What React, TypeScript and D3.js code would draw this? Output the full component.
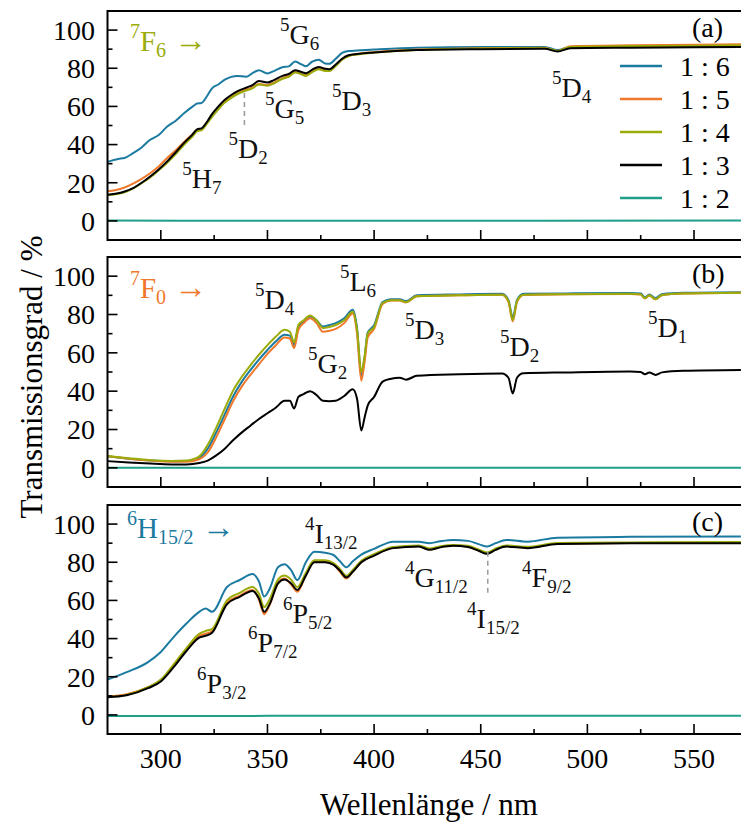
import React from "react";
import * as d3 from "d3";

// ---------- data ----------
const SERIES = ["1 : 6", "1 : 5", "1 : 4", "1 : 3", "1 : 2"];
const COLORS = ["#1b7aa0", "#f0782a", "#9aab0a", "#000000", "#1f9e8a"];

// Panel (a): 7F6 ->
const WL_A = [275, 280, 283, 287, 291, 295, 299, 303, 307, 311, 315, 317, 319, 322, 324, 327, 330, 333, 336, 340, 343, 346, 350, 353, 357, 360, 363, 366, 368, 371, 374, 377, 379, 382, 385, 388, 392, 400, 420, 450, 480, 486, 492, 520, 550, 572];
const A_16 = [31, 32.5, 33, 35.5, 38.5, 42.5, 45, 49.5, 52.5, 56.5, 60, 61.5, 61.8, 66, 69.5, 71.5, 74, 75.5, 76, 75.5, 77.5, 79, 77.3, 78.5, 80.5, 81, 83.5, 82, 81, 83.5, 84.5, 82.5, 82.3, 85, 88, 89, 89.3, 89.8, 90.8, 91.2, 91.2, 89.5, 91.2, 91.5, 91.6, 91.7];
const A_15 = [15.5, 16.5, 17.5, 19.5, 22, 25, 28.5, 33, 37, 41.5, 45.5, 47.5, 48, 52, 55, 59, 62.5, 65, 67, 68.8, 70, 71.8, 71.2, 72.5, 74.8, 76, 78, 77, 76.4, 78.5, 79.8, 79, 78.8, 81.5, 84.8, 86.5, 87.5, 88.5, 89.8, 90.5, 90.8, 89, 91.5, 92, 92.3, 92.6];
const A_14 = [13.5, 14.2, 15, 17, 19.8, 22.8, 26.5, 30.5, 35, 40, 44.5, 47, 47.5, 51.5, 54.5, 58.5, 62, 64.5, 66.5, 68.3, 69.5, 71.5, 70.8, 72, 74.5, 75.5, 77.8, 76.8, 76, 78, 79.5, 78.6, 78.5, 81.2, 84.5, 86.3, 87.2, 88.2, 89.6, 90.3, 90.6, 89, 91.2, 91.6, 91.8, 92];
const A_13 = [13.7, 14.5, 15.4, 17.2, 20, 23.3, 27, 31.2, 36, 41, 45.5, 48, 48.5, 52.5, 56, 60, 63.5, 66, 68, 69.8, 71.2, 73.3, 72.5, 73.8, 76, 77, 79, 78, 77.4, 79.3, 80.7, 79.7, 79.5, 82, 85, 86.8, 87.5, 88.3, 89.5, 90, 90.2, 88.8, 90.5, 90.8, 91, 91.2];
const WL_A2 = [275, 350, 450, 572];
const A_12 = [0.2, 0.1, 0.1, 0.2];

// Panel (b): 7F0 ->
const WL_B = [275, 285, 295, 305, 312, 318, 322, 326, 330, 334, 338, 342, 346, 350, 354, 358, 360.5, 362.5, 364.5, 367, 370, 373, 376, 379, 382, 386, 390, 392, 394, 395.5, 397, 400, 404, 408, 412, 415, 420, 440, 460, 463, 465, 467, 470, 490, 520, 525, 527, 529, 532, 535, 545, 572];
const B_16 = [6.0, 4.8, 3.8, 3.4, 3.5, 5.2, 10, 18.5, 28, 37.5, 45, 51, 56.5, 61.5, 66, 69.5, 69, 64, 73.5, 76.5, 79, 77, 73.8, 74.5, 75.5, 78, 82.5, 73, 48, 57, 70.5, 74.5, 86.5, 88, 88, 87, 90, 90.5, 90.8, 87.5, 78.5, 87.5, 90.8, 91, 91.2, 91, 89, 90.4, 88.6, 90.6, 91.3, 91.6];
const B_15 = [6.0, 4.8, 3.8, 3.2, 3.2, 4.5, 8, 16, 25.5, 35, 42.5, 48.5, 54, 59.5, 64, 68, 67.5, 62.5, 72, 75.5, 78, 75.5, 71, 71.5, 72.5, 75.5, 80.5, 70, 45.5, 55, 68, 72.5, 85.5, 87.3, 87.3, 86.3, 89.5, 90, 90.3, 86.5, 76.5, 86.5, 90.2, 90.5, 90.7, 90.4, 88.4, 89.9, 87.9, 90.1, 90.9, 91.3];
const B_14 = [6.2, 5.0, 4.0, 3.6, 3.8, 6.0, 12, 21, 31, 40.5, 47.5, 53.5, 59, 64, 68.5, 72, 71, 65.5, 74.5, 77, 79.5, 77, 73, 73.5, 74.5, 77, 81.5, 72, 50, 58, 70, 73.5, 86, 87.5, 87.5, 86.5, 89.5, 90, 90.3, 87, 77, 87, 90.3, 90.6, 90.8, 90.5, 88.5, 90, 88, 90.2, 91, 91.4];
const B_13 = [3.5, 2.8, 2.2, 1.8, 1.8, 2.5, 3.8, 6.5, 10, 14.5, 18.5, 22, 25.5, 28.5, 31.5, 35, 35, 31, 37, 38.5, 40, 38, 35, 34.8, 35, 37.5, 41, 36, 19.5, 26, 32.5, 37, 45, 46.5, 47, 46, 48, 48.8, 49.2, 47, 38.8, 47, 49.3, 49.8, 50.3, 50, 48.8, 49.8, 48.5, 49.8, 50.6, 51];
const WL_B2 = [275, 350, 450, 572];
const B_12 = [0.1, 0.0, 0.0, 0.1];

// Panel (c): 6H15/2 ->
const WL_C = [275, 284, 294, 300, 306, 312, 318, 321, 324, 331, 337, 343, 346, 348.5, 351, 355, 358, 361, 364, 368, 372, 377, 381, 384, 387, 390, 394, 400, 409, 421, 426, 431, 437, 444, 449, 453, 457, 462, 472, 486, 520, 572];
const C_16 = [18.5, 22.4, 27.7, 33, 40.8, 47.9, 54, 55.8, 54, 67, 70.7, 73.8, 70, 62, 66, 77.5, 79, 76, 70.7, 80, 85.5, 85, 83.8, 80.5, 77.4, 80.5, 84, 87, 90.8, 90.8, 90, 91, 91.7, 91.2, 89.5, 88.2, 90, 91.7, 90.8, 92.9, 93.3, 93.5];
const C_15 = [9.6, 10.8, 14.5, 18.2, 26, 34.3, 41.5, 42.5, 43.8, 58.8, 62.5, 65.5, 60.5, 52.8, 57.5, 69.5, 71.5, 68.5, 64.5, 73.5, 80.5, 80.5, 79, 75, 71.5, 75, 80, 83.8, 87.6, 88.4, 86.7, 88, 88.8, 88.2, 86.2, 84.6, 86.7, 88.4, 87.6, 89.8, 90.1, 90.2];
const C_14 = [9.3, 10.5, 14.5, 18.5, 26.5, 35, 42.5, 44, 45, 60, 64, 67, 63.5, 56.5, 60.5, 71, 73, 71, 67, 74.5, 81, 81, 79.6, 76.5, 73, 76, 80.8, 84.2, 88, 88.8, 87.2, 88.4, 89.1, 88.6, 86.7, 85.1, 87.2, 88.8, 88.1, 90.1, 90.4, 90.6];
const C_13 = [9.3, 10.3, 14, 17.5, 25, 33.5, 40.5, 41.5, 43, 58, 61.9, 65, 61, 54, 58, 69, 71, 69, 65.5, 73, 80, 80, 78.6, 75.5, 72.1, 75, 80, 83.5, 87.4, 88.2, 86.5, 87.8, 88.6, 88, 86, 84.4, 86.5, 88.2, 87.4, 89.6, 89.9, 90];
const WL_C2 = [275, 350, 450, 572];
const C_12 = [-0.6, -0.5, -0.5, -0.4];

const Y_TICKS = [0, 20, 40, 60, 80, 100];
const Y_MINOR = [10, 30, 50, 70, 90];
const X_TICKS = [300, 350, 400, 450, 500, 550];
const X_MINOR = [325, 375, 425, 475, 525];

const PANEL_TAGS = ["(a)", "(b)", "(c)"];

// term labels: [sup, main, sub, nm, value]
const TERMS_A: [string, string, string, number, number][] = [
  ["5", "G", "6", 355.9, 92.5],
  ["5", "G", "5", 348.9, 53.9],
  ["5", "D", "3", 380.3, 58.1],
  ["5", "D", "2", 331.7, 32.8],
  ["5", "H", "7", 310, 17.2],
  ["5", "D", "4", 483.4, 64.9],
];
const TERMS_B: [string, string, string, number, number][] = [
  ["5", "D", "4", 344.2, 82.8],
  ["5", "L", "6", 384, 92.2],
  ["5", "G", "2", 369, 49.7],
  ["5", "D", "3", 414.5, 67],
  ["5", "D", "2", 459, 58.1],
  ["5", "D", "1", 528.4, 68.1],
];
const TERMS_C: [string, string, string, number, number][] = [
  ["4", "I", "13/2", 367.6, 90.1],
  ["6", "P", "5/2", 357.3, 48.2],
  ["6", "P", "7/2", 340.9, 33],
  ["6", "P", "3/2", 317, 11.5],
  ["4", "G", "11/2", 414.5, 67],
  ["4", "I", "15/2", 443.6, 45.6],
  ["4", "F", "9/2", 469.4, 67],
];
// ground states: [sup, main, sub, nm, value]
const GROUND: [string, string, string, number, number][] = [
  ["7", "F", "6", 285.5, 89.3],
  ["7", "F", "0", 285.5, 88.5],
  ["6", "H", "15/2", 284.2, 92.7],
];
const GROUND_COLOR_IDX = [2, 1, 0];
// dashed guide lines: [nm, from value, to value]
const GUIDES: [number, number, number][][] = [
  [[339.2, 67, 49.2]],
  [],
  [[453.3, 85.5, 62.9]],
];

const PANELS = [
  { wl: WL_A, series: [A_16, A_15, A_14, A_13], wl2: WL_A2, s12: A_12, terms: TERMS_A },
  { wl: WL_B, series: [B_16, B_15, B_14, B_13], wl2: WL_B2, s12: B_12, terms: TERMS_B },
  { wl: WL_C, series: [C_16, C_15, C_14, C_13], wl2: WL_C2, s12: C_12, terms: TERMS_C },
];

const FONT = "Liberation Serif, Times New Roman, serif";

function Term({ x, y, sup, main, sub, arrow, color, big }: any) {
  const fs = big ? 29 : 28;
  const ss = big ? 20 : 19;
  return (
    <text x={x} y={y} fontSize={fs} fill={color} style={{ fontFamily: FONT }}>
      <tspan fontSize={ss} dy={-13}>{sup}</tspan>
      <tspan dy={13}>{main}</tspan>
      <tspan fontSize={ss} dy={6}>{sub}</tspan>
      {arrow ? <tspan dy={-6} dx={8} fontSize={33}>→</tspan> : null}
    </text>
  );
}

export default function App() {
  const W = 741;
  const H = 828;
  const left = 107.5;
  const right = 742;
  const boxes = [
    { top: 11, bottom: 240 },
    { top: 257, bottom: 487 },
    { top: 505, bottom: 734 },
  ];
  const x = d3.scaleLinear().domain([275, 572.5]).range([left, right]);

  return (
    <svg width={W} height={H} style={{ position: "absolute", left: 0, top: 0, background: "#fff", fontFamily: FONT }}>
      <defs>
        {boxes.map((b, i) => (
          <clipPath id={`clip${i}`} key={i}>
            <rect x={left} y={b.top} width={right - left} height={b.bottom - b.top} />
          </clipPath>
        ))}
      </defs>
      {PANELS.map((p, pi) => {
        const b = boxes[pi];
        const y = d3.scaleLinear().domain([-10, 110]).range([b.bottom, b.top]);
        const line = d3
          .line<[number, number]>()
          .x((d) => x(d[0]))
          .y((d) => y(d[1]))
          .curve(d3.curveMonotoneX);
        const paths = p.series.map((vals) => line(p.wl.map((w, k) => [w, vals[k]] as [number, number])));
        const p12 = line(p.wl2.map((w, k) => [w, p.s12[k]] as [number, number]));
        const g = GROUND[pi];
        return (
          <g key={pi}>
            <g clipPath={`url(#clip${pi})`}>
              {paths.map((d, si) => (
                <path key={si} d={d || ""} fill="none" stroke={COLORS[si]} strokeWidth={2} strokeLinejoin="round" />
              ))}
              <path d={p12 || ""} fill="none" stroke={COLORS[4]} strokeWidth={2} />
            </g>
            <rect x={left} y={b.top} width={right - left} height={b.bottom - b.top} fill="none" stroke="#000" strokeWidth={2} />
            {Y_TICKS.map((t) => (
              <g key={"y" + t}>
                <line x1={left} x2={left + 10} y1={y(t)} y2={y(t)} stroke="#000" strokeWidth={1.6} />
                <text x={95} y={y(t)} dy="0.35em" textAnchor="end" fontSize={28}>
                  {t}
                </text>
              </g>
            ))}
            {Y_MINOR.map((t) => (
              <line key={"ym" + t} x1={left} x2={left + 5} y1={y(t)} y2={y(t)} stroke="#000" strokeWidth={1.6} />
            ))}
            {X_TICKS.map((t) => (
              <line key={"x" + t} x1={x(t)} x2={x(t)} y1={b.bottom} y2={b.bottom - 10} stroke="#000" strokeWidth={1.6} />
            ))}
            {X_MINOR.map((t) => (
              <line key={"xm" + t} x1={x(t)} x2={x(t)} y1={b.bottom} y2={b.bottom - 5} stroke="#000" strokeWidth={1.6} />
            ))}
            <text x={692} y={b.top + 26} fontSize={28}>
              {PANEL_TAGS[pi]}
            </text>
            <Term x={x(g[3])} y={y(g[4])} sup={g[0]} main={g[1]} sub={g[2]} arrow big color={COLORS[GROUND_COLOR_IDX[pi]]} />
            {p.terms.map((t, ti) => (
              <Term key={ti} x={x(t[3])} y={y(t[4])} sup={t[0]} main={t[1]} sub={t[2]} color="#111" />
            ))}
            {GUIDES[pi].map((gd, gi) => (
              <line key={gi} x1={x(gd[0])} x2={x(gd[0])} y1={y(gd[1])} y2={y(gd[2])} stroke="#999" strokeWidth={1.5} strokeDasharray="5,4" />
            ))}
          </g>
        );
      })}
      {/* legend */}
      {SERIES.map((s, i) => (
        <g key={s}>
          <line x1={620} x2={662} y1={66 + i * 33} y2={66 + i * 33} stroke={COLORS[i]} strokeWidth={2.5} />
          <text x={680} y={76 + i * 33} fontSize={28}>
            {s}
          </text>
        </g>
      ))}
      {/* x tick labels */}
      {X_TICKS.map((t) => (
        <text key={t} x={x(t)} y={768} textAnchor="middle" fontSize={28}>
          {t}
        </text>
      ))}
      <text x={429} y={815} textAnchor="middle" fontSize={31}>
        Wellenlänge / nm
      </text>
      <text transform="translate(42,377) rotate(-90)" textAnchor="middle" fontSize={31}>
        Transmissionsgrad / %
      </text>
    </svg>
  );
}
